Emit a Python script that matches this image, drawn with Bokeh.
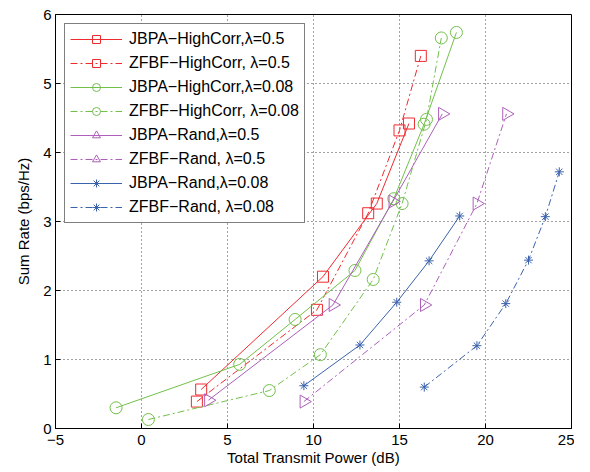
import math
from bokeh.plotting import figure
from bokeh.models import Legend, LegendItem, FixedTicker, Range1d, ColumnDataSource
from bokeh.embed import file_html
from bokeh.resources import INLINE

# ---- data ----
x_ticks = [-5, 0, 5, 10, 15, 20, 25]
y_ticks = [0, 1, 2, 3, 4, 5, 6]

jbpa_hc05_x = [3.47, 10.55, 13.68, 15.55]
jbpa_hc05_y = [0.565, 2.20, 3.26, 4.42]
zfbf_hc05_x = [3.22, 10.20, 13.18, 15.00, 16.24]
zfbf_hc05_y = [0.39, 1.72, 3.12, 4.32, 5.40]

jbpa_hc008_x = [-1.48, 5.71, 8.93, 12.41, 14.67, 16.43, 18.31]
jbpa_hc008_y = [0.30, 0.93, 1.58, 2.29, 3.33, 4.41, 5.74]
zfbf_hc008_x = [0.40, 7.43, 10.40, 13.47, 15.15, 16.57, 17.43]
zfbf_hc008_y = [0.13, 0.55, 1.07, 2.16, 3.26, 4.48, 5.66]

jbpa_r05_x = [3.89, 11.13, 14.61, 17.49]
jbpa_r05_y = [0.41, 1.79, 3.29, 4.56]
zfbf_r05_x = [9.44, 16.44, 19.50, 21.22]
zfbf_r05_y = [0.39, 1.79, 3.26, 4.56]

jbpa_r008_x = [9.44, 12.70, 14.84, 16.72, 18.50]
jbpa_r008_y = [0.62, 1.21, 1.83, 2.43, 3.08]
zfbf_r008_x = [16.44, 19.50, 21.18, 22.50, 23.48, 24.29]
zfbf_r008_y = [0.60, 1.20, 1.81, 2.44, 3.07, 3.72]

labels = [
    "JBPA\u2212HighCorr,\u03bb=0.5",
    "ZFBF\u2212HighCorr, \u03bb=0.5",
    "JBPA\u2212HighCorr,\u03bb=0.08",
    "ZFBF\u2212HighCorr, \u03bb=0.08",
    "JBPA\u2212Rand,\u03bb=0.5",
    "ZFBF\u2212Rand, \u03bb=0.5",
    "JBPA\u2212Rand,\u03bb=0.08",
    "ZFBF\u2212Rand, \u03bb=0.08",
]

RED = "#EE2B2F"
GREEN = "#72C04A"
PURPLE = "#AD5FBA"
BLUE = "#3A62AD"
FONT = "Liberation Sans"
DASHDOT = "7 3 2 3"

p = figure(width=574, height=468, x_range=Range1d(-5, 25), y_range=Range1d(0, 6),
           output_backend="svg", toolbar_location=None,
           min_border_left=55, min_border_top=14, min_border_right=3, min_border_bottom=0)
p.background_fill_color = "white"
p.border_fill_color = "white"
p.outline_line_color = "black"
p.outline_line_width = 1

for ax in (p.xaxis[0], p.yaxis[0]):
    ax.major_tick_in = 5
    ax.major_tick_out = 0
    ax.minor_tick_in = 0
    ax.minor_tick_out = 0
    ax.major_label_text_font = FONT
    ax.major_label_text_font_size = "15px"
    ax.major_label_text_color = "black"
    ax.axis_label_text_font = FONT
    ax.axis_label_text_font_size = "15px"
    ax.axis_label_text_font_style = "normal"
    ax.axis_label_text_color = "black"
    ax.axis_line_color = "black"
    ax.major_tick_line_color = "black"
p.xaxis[0].major_label_standoff = 6
p.xaxis[0].axis_label_standoff = 1
p.yaxis[0].axis_label_standoff = 8
p.yaxis[0].major_label_standoff = 4

p.xaxis.ticker = FixedTicker(ticks=x_ticks)
p.yaxis.ticker = FixedTicker(ticks=y_ticks)
p.xaxis.major_label_overrides = {t: (str(t).replace("-", "\u2212")) for t in x_ticks}
p.xaxis.axis_label = "Total Transmit Power (dB)"
p.yaxis.axis_label = "Sum Rate (bps/Hz)"

p.xgrid.ticker = FixedTicker(ticks=x_ticks)
p.ygrid.ticker = FixedTicker(ticks=y_ticks)
for g in (p.xgrid[0], p.ygrid[0]):
    g.grid_line_color = "#444444"
    g.grid_line_dash = "1 3"
    g.grid_line_width = 1

series = [
    (jbpa_hc05_x, jbpa_hc05_y, RED, "solid", "square", 11),
    (zfbf_hc05_x, zfbf_hc05_y, RED, DASHDOT, "square", 11),
    (jbpa_hc008_x, jbpa_hc008_y, GREEN, "solid", "circle", 12),
    (zfbf_hc008_x, zfbf_hc008_y, GREEN, DASHDOT, "circle", 12),
    (jbpa_r05_x, jbpa_r05_y, PURPLE, "solid", "triangle", 13),
    (zfbf_r05_x, zfbf_r05_y, PURPLE, DASHDOT, "triangle", 13),
    (jbpa_r008_x, jbpa_r008_y, BLUE, "solid", "asterisk", 9),
    (zfbf_r008_x, zfbf_r008_y, BLUE, DASHDOT, "asterisk", 9),
]

items = []
for (xs, ys, col, dash, mk, sz), lab in zip(series, labels):
    r1 = p.line(xs, ys, line_color=col, line_width=1, line_dash=dash)
    src = ColumnDataSource(dict(x=xs, y=ys,
                                ang=[(-math.pi / 2 if mk == "triangle" else 0.0)] * len(xs)))
    r2 = p.scatter("x", "y", source=src, size=sz, line_color=col, line_width=1,
                   fill_color=None, marker=mk, angle="ang")
    items.append(LegendItem(label=lab, renderers=[r1, r2], index=0))

legend = Legend(items=items, location="top_left")
legend.label_text_font = FONT
legend.label_text_font_size = "16px"
legend.label_text_color = "black"
legend.glyph_width = 52
legend.glyph_height = 20
legend.label_height = 20
legend.spacing = 4
legend.padding = 5
legend.margin = 9
legend.label_standoff = 7
legend.border_line_color = "black"
legend.border_line_width = 1
legend.background_fill_color = "white"
legend.background_fill_alpha = 1
p.add_layout(legend)

open("out.html", "w").write(file_html(p, INLINE))
